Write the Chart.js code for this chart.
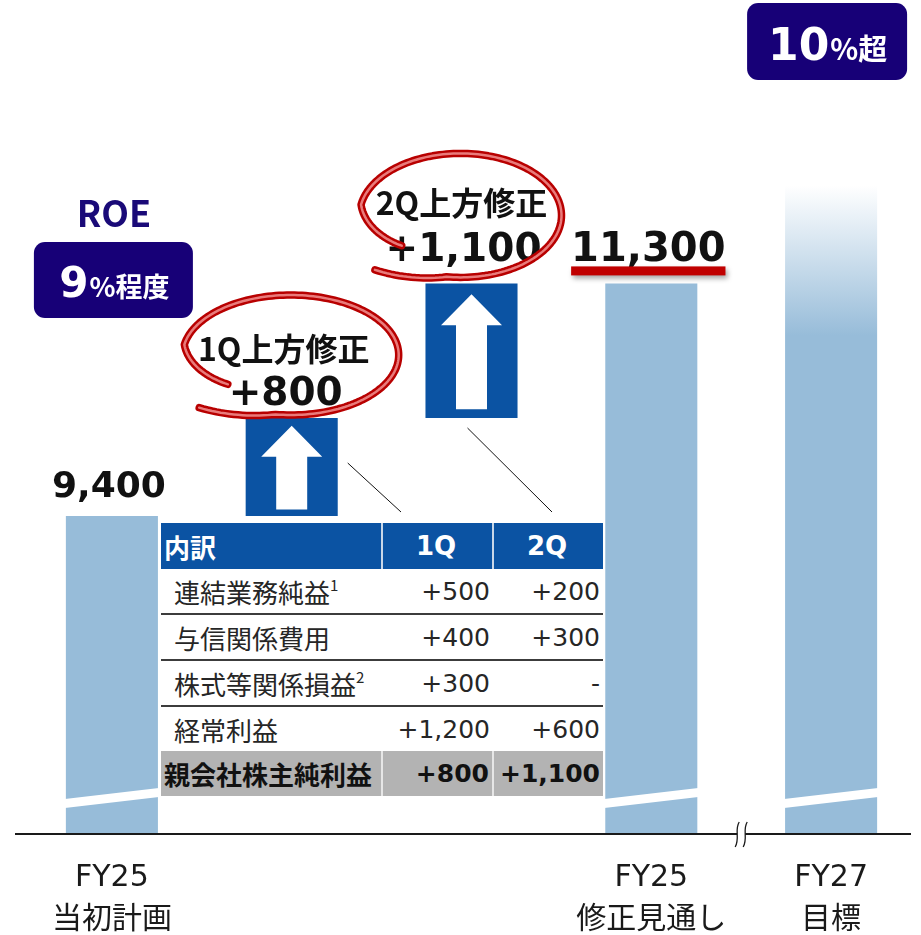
<!DOCTYPE html>
<html lang="ja">
<head>
<meta charset="utf-8">
<script src="https://cdn.jsdelivr.net/npm/chart.js@4.4.0/dist/chart.umd.min.js"></script>
<style>
  body { margin: 0; background: #fff; }
  #wrap { position: relative; width: 921px; height: 935px; overflow: hidden; }
  #breakdown { position: absolute; left: 161px; top: 523px; width: 442px; border-collapse: collapse; table-layout: fixed; background: #fff; color: #262626; }
  #breakdown th, #breakdown td { padding: 0 3px 0 0; line-height: 1; white-space: nowrap; }
  #breakdown th { height: 46px; background: #0b53a3; color: #fff; font: bold 26px "DejaVu Sans", "Noto Sans CJK JP", sans-serif; text-align: center; }
  #breakdown th.item { text-align: left; padding-left: 3px; font: bold 26px "Noto Sans CJK JP", sans-serif; }
  #breakdown th + th { border-left: 2px solid #c9d7e8; }
  #breakdown td { height: 44px; }
  #breakdown tr.line td { border-bottom: 2px solid #3c3c3c; }
  #breakdown td.item { font: 26px "Noto Sans CJK JP", sans-serif; padding-left: 13px; text-align: left; }
  #breakdown td.num { font: 25px "DejaVu Sans", sans-serif; text-align: right; }
  #breakdown tr.total td { height: 45px; background: #b3b3b3; color: #111; font-weight: bold; }
  #breakdown tr.total td.item { padding-left: 3px; }
  #breakdown tr.total td + td { border-left: 2px solid #e6e6e6; }
  #breakdown sup { font-size: 15px; vertical-align: 12px; line-height: 0; }
</style>
</head>
<body>
<div id="wrap">
  <canvas id="roeChart" width="921" height="935"></canvas>
  <table id="breakdown"></table>
</div>
<script>
// values
var categories = [['FY25', '当初計画'], '', '', ['FY25', '修正見通し'], ['FY27', '目標']];
var initialPlan = 9400;
var upwardRevisions = [800, 1100];
var revisionLabels = ['1Q上方修正', '2Q上方修正'];
var revisedForecast = 11300;
var fy27Target = 12100; // no figure on the slide
var roeFigures = ['9', '10'];
var roeSuffixes = ['%程度', '%超'];
var yRange = [6800, 13600];

var breakdownHeader = ['内訳', '1Q', '2Q'];
var breakdownItems = ['連結業務純益', '与信関係費用', '株式等関係損益', '経常利益'];
var breakdownNotes = ['1', '', '2', ''];
var breakdown1Q = ['+500', '+400', '+300', '+1,200'];
var breakdown2Q = ['+200', '+300', '-', '+600'];
var netIncomeLabel = '親会社株主純利益';

var LIGHT = '#97bcd9';
var BLUE = '#0b53a3';
var NAVY = '#170077';
var RED = '#b80000';
var FONT_JP = '"Noto Sans CJK JP", sans-serif';
var FONT_NUM = '"DejaVu Sans", "Noto Sans CJK JP", sans-serif';

function signed(v) {
  return '+' + v.toLocaleString('en-US');
}

// breakdown table
var rowsHtml = '<colgroup><col style="width:221px"><col style="width:111px"><col style="width:110px"></colgroup>';
rowsHtml += '<tr><th class="item">' + breakdownHeader[0] + '</th><th>' + breakdownHeader[1] + '</th><th>' + breakdownHeader[2] + '</th></tr>';
for (var i = 0; i < breakdownItems.length; i++) {
  var note = breakdownNotes[i] ? '<sup>' + breakdownNotes[i] + '</sup>' : '';
  var cls = i < breakdownItems.length - 1 ? ' class="line"' : '';
  rowsHtml += '<tr' + cls + '><td class="item">' + breakdownItems[i] + note + '</td><td class="num">' + breakdown1Q[i] + '</td><td class="num">' + breakdown2Q[i] + '</td></tr>';
}
rowsHtml += '<tr class="total"><td class="item">' + netIncomeLabel + '</td><td class="num">' + signed(upwardRevisions[0]) + '</td><td class="num">' + signed(upwardRevisions[1]) + '</td></tr>';
document.getElementById('breakdown').innerHTML = rowsHtml;

// waterfall bars: plan, the two revisions stacked on it, forecast, target
var running = initialPlan;
var revisionBars = upwardRevisions.map(function (d) {
  var bar = [running, running + d];
  running += d;
  return bar;
});
var barData = [[yRange[0], initialPlan]].concat(revisionBars, [[yRange[0], revisedForecast], [yRange[0], fy27Target]]);

function drawArrow(ctx, bar) {
  var h = bar.base - bar.y;
  var tip = bar.y + h * 0.08;
  var bottom = bar.base - h * 0.065;
  var headH = 31, headW = 61, shaftW = 31;
  ctx.beginPath();
  ctx.moveTo(bar.x, tip);
  ctx.lineTo(bar.x + headW / 2, tip + headH);
  ctx.lineTo(bar.x + shaftW / 2, tip + headH);
  ctx.lineTo(bar.x + shaftW / 2, bottom);
  ctx.lineTo(bar.x - shaftW / 2, bottom);
  ctx.lineTo(bar.x - shaftW / 2, tip + headH);
  ctx.lineTo(bar.x - headW / 2, tip + headH);
  ctx.closePath();
  ctx.fillStyle = '#fff';
  ctx.fill();
}

// hand drawn red loop around an annotation
function drawLoop(ctx, cx, cy, rx, ry) {
  var a0 = 140, a1 = 140 + 354;
  ctx.beginPath();
  for (var a = a0; a <= a1; a += 2) {
    var r = 1;
    if (a < a0 + 50) r -= 0.24 * (1 - (a - a0) / 50);
    if (a > a0 + 318) r += 0.22 * (a - a0 - 318) / (a1 - a0 - 318);
    var t = a * Math.PI / 180;
    var x = cx + r * rx * Math.cos(t);
    var y = cy + r * ry * Math.sin(t);
    if (a === a0) ctx.moveTo(x, y); else ctx.lineTo(x, y);
  }
  ctx.lineCap = 'round';
  ctx.lineJoin = 'round';
  ctx.strokeStyle = RED;
  ctx.lineWidth = 7.5;
  ctx.stroke();
  ctx.strokeStyle = '#e97b7b';
  ctx.lineWidth = 2.5;
  ctx.stroke();
}

function roundRect(ctx, x, y, w, h, r) {
  ctx.beginPath();
  ctx.roundRect(x, y, w, h, r);
  ctx.fillStyle = NAVY;
  ctx.fill();
}

function roeText(ctx, cx, baseline, big, small, bigSize, smallSize) {
  ctx.font = 'bold ' + bigSize + 'px ' + FONT_NUM;
  var w1 = ctx.measureText(big).width;
  ctx.font = 'bold ' + smallSize + 'px ' + FONT_JP;
  var w2 = ctx.measureText(small).width;
  var x = cx - (w1 + w2) / 2;
  ctx.fillStyle = '#fff';
  ctx.textAlign = 'left';
  ctx.textBaseline = 'alphabetic';
  ctx.font = 'bold ' + bigSize + 'px ' + FONT_NUM;
  ctx.fillText(big, x, baseline);
  ctx.font = 'bold ' + smallSize + 'px ' + FONT_JP;
  ctx.fillText(small, x + w1 + 1, baseline);
}

var decorations = {
  id: 'decorations',
  afterDatasetsDraw: function (chart) {
    var ctx = chart.ctx;
    var bars = chart.getDatasetMeta(0).data;
    var bottom = chart.chartArea.bottom;
    ctx.save();

    // white slanted cut on the full-height bars
    [0, 3, 4].forEach(function (i) {
      var b = bars[i];
      var l = b.x - b.width / 2 - 1, r = b.x + b.width / 2 + 1;
      ctx.beginPath();
      ctx.moveTo(l, bottom - 35);
      ctx.lineTo(r, bottom - 46);
      ctx.lineTo(r, bottom - 37);
      ctx.lineTo(l, bottom - 26);
      ctx.closePath();
      ctx.fillStyle = '#fff';
      ctx.fill();
    });

    // base line with a break mark before FY27
    ctx.strokeStyle = '#1a1a1a';
    ctx.lineWidth = 2;
    ctx.beginPath();
    ctx.moveTo(15, bottom);
    ctx.lineTo(911, bottom);
    ctx.stroke();
    var bx = (bars[3].x + bars[3].width / 2 + bars[4].x - bars[4].width / 2) / 2;
    ctx.fillStyle = '#fff';
    ctx.fillRect(bx - 4, bottom - 3, 8, 6);
    ctx.lineWidth = 1.3;
    [-4, 4].forEach(function (dx) {
      ctx.beginPath();
      ctx.moveTo(bx + dx + 2, bottom - 12);
      ctx.bezierCurveTo(bx + dx - 3, bottom - 4, bx + dx + 3, bottom + 4, bx + dx - 2, bottom + 13);
      ctx.stroke();
    });

    // arrows inside the revision bars
    drawArrow(ctx, bars[1]);
    drawArrow(ctx, bars[2]);

    // connectors from the revision bars to the table columns
    ctx.strokeStyle = '#111';
    ctx.lineWidth = 1;
    ctx.beginPath();
    ctx.moveTo(bars[1].x + bars[1].width / 2 + 10, 463);
    ctx.lineTo(401, 512);
    ctx.moveTo(bars[2].x - 4, bars[2].base + 10);
    ctx.lineTo(552, 512);
    ctx.stroke();

    // values on top of the plan and the forecast
    ctx.fillStyle = '#111';
    ctx.textAlign = 'center';
    ctx.textBaseline = 'alphabetic';
    ctx.font = 'bold 36px ' + FONT_NUM;
    ctx.fillText(initialPlan.toLocaleString('en-US'), bars[0].x - 3, bars[0].y - 19);
    ctx.font = 'bold 40px ' + FONT_NUM;
    var fy = bars[3].y - 22;
    var fw = ctx.measureText(revisedForecast.toLocaleString('en-US')).width;
    ctx.fillText(revisedForecast.toLocaleString('en-US'), bars[3].x - 3, fy);
    ctx.save();
    ctx.shadowColor = 'rgba(0,0,0,0.35)';
    ctx.shadowBlur = 5;
    ctx.shadowOffsetX = 2;
    ctx.shadowOffsetY = 3;
    ctx.fillStyle = '#c00000';
    ctx.fillRect(bars[3].x - 3 - fw / 2, fy + 5, fw, 9);
    ctx.restore();

    // ROE boxes
    ctx.fillStyle = '#1a0a78';
    ctx.font = 'bold 36px ' + FONT_JP;
    ctx.fillText('ROE', bars[0].x + 2, 227);
    roundRect(ctx, bars[0].x - 78, 242, 159, 76, 11);
    roeText(ctx, bars[0].x + 2, 297, roeFigures[0], roeSuffixes[0], 42, 27);
    roundRect(ctx, bars[4].x - 84, 3, 160, 77, 11);
    roeText(ctx, bars[4].x - 4, 60, roeFigures[1], roeSuffixes[1], 44, 29);

    // revision callouts
    var callouts = [
      { bar: bars[1], dx: -1, dy: -63, rx: 108, ry: 60, t1: -6, t2: 40, tx: -8 },
      { bar: bars[2], dx: -11, dy: -68, rx: 101, ry: 62, t1: -13, t2: 35, tx: -10 }
    ];
    callouts.forEach(function (c, i) {
      var cx = c.bar.x + c.dx;
      var cy = c.bar.y + c.dy;
      ctx.fillStyle = '#111';
      ctx.textAlign = 'center';
      ctx.textBaseline = 'middle';
      ctx.font = 'bold 32px ' + FONT_JP;
      ctx.fillText(revisionLabels[i], c.bar.x + c.tx, cy + c.t1);
      ctx.font = 'bold 39px ' + FONT_NUM;
      ctx.fillText(signed(upwardRevisions[i]), c.bar.x + c.tx + 2, cy + c.t2);
      drawLoop(ctx, cx, cy, c.rx, c.ry);
    });

    ctx.restore();
  }
};

var ctx = document.getElementById('roeChart').getContext('2d');
var roeChart = new Chart(ctx, {
  type: 'bar',
  data: {
    labels: categories,
    datasets: [{
      data: barData,
      borderWidth: 0,
      categoryPercentage: 1,
      barPercentage: 0.512,
      backgroundColor: function (c) {
        var i = c.dataIndex;
        if (i === 1 || i === 2) return BLUE;
        if (i === 4 && c.chart.chartArea) {
          var top = c.chart.scales.y.getPixelForValue(fy27Target);
          var g = c.chart.ctx.createLinearGradient(0, top, 0, top + 150);
          g.addColorStop(0, '#ffffff');
          g.addColorStop(1, LIGHT);
          return g;
        }
        return LIGHT;
      }
    }]
  },
  options: {
    responsive: false,
    animation: false,
    devicePixelRatio: 1,
    layout: { padding: { left: 22, top: 2, right: 0, bottom: 0 } },
    plugins: {
      legend: { display: false },
      tooltip: { enabled: false }
    },
    scales: {
      x: {
        grid: { display: false, drawTicks: false },
        border: { display: false },
        ticks: {
          color: '#1a1a1a',
          font: { family: FONT_NUM, size: 30, lineHeight: 1.4 },
          padding: 23,
          maxRotation: 0,
          autoSkip: false
        },
        afterFit: function (s) { s.height = 101; }
      },
      y: { display: false, min: yRange[0], max: yRange[1] }
    }
  },
  plugins: [decorations]
});
</script>
</body>
</html>
